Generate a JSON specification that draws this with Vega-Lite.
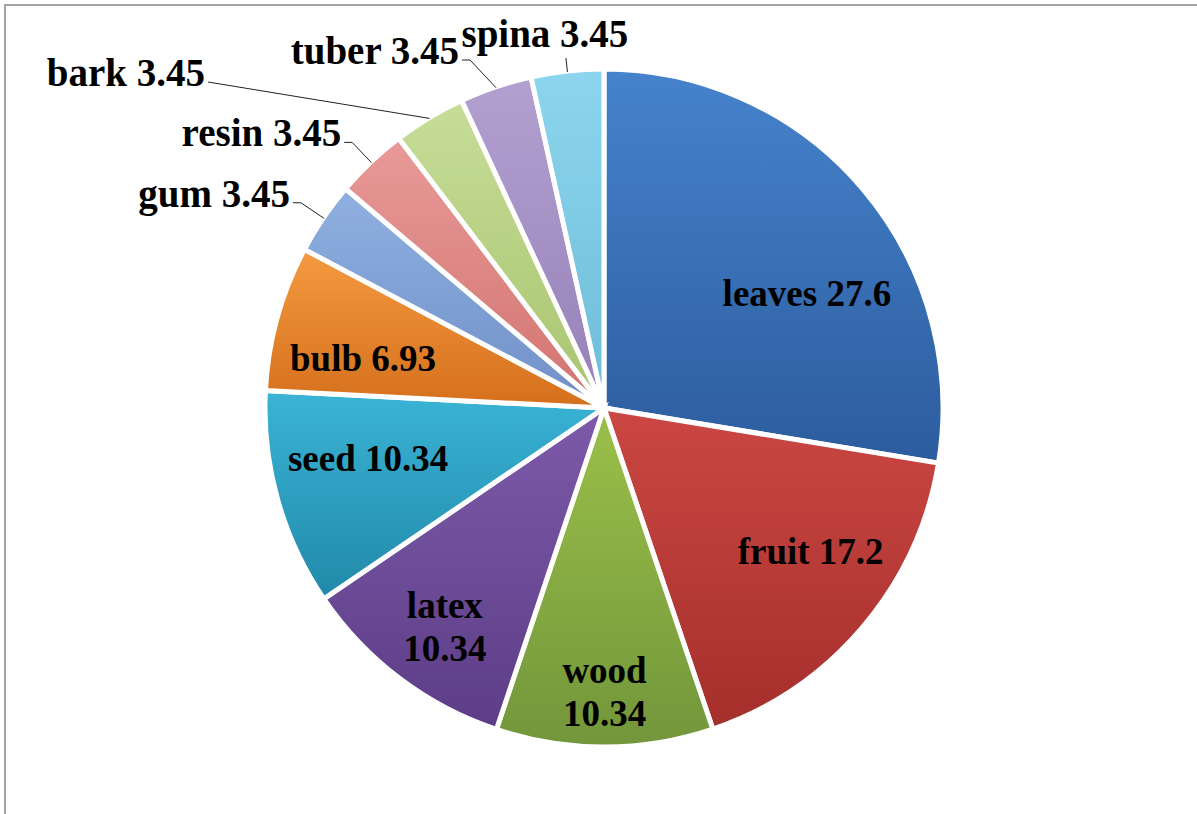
{
  "$schema": "https://vega.github.io/schema/vega-lite/v6.json",
  "width": 1200,
  "height": 817,
  "autosize": {"type": "none"},
  "padding": {"left": 5, "top": 5, "right": -8, "bottom": -8},
  "background": "white",
  "config": {
    "view": {"stroke": "#a3a3a3", "strokeWidth": 2},
    "text": {"font": "Liberation Serif", "fontWeight": "bold", "fontSize": 37, "fill": "black"}
  },
  "data": {
    "values": [
      {"part": "leaves", "value": 27.6},
      {"part": "fruit", "value": 17.2},
      {"part": "wood", "value": 10.34},
      {"part": "latex", "value": 10.34},
      {"part": "seed", "value": 10.34},
      {"part": "bulb", "value": 6.93},
      {"part": "gum", "value": 3.45},
      {"part": "resin", "value": 3.45},
      {"part": "bark", "value": 3.45},
      {"part": "tuber", "value": 3.45},
      {"part": "spina", "value": 3.45}
    ]
  },
  "transform": [
    {"window": [{"op": "row_number", "as": "rn"}]},
    {"stack": "value", "groupby": [], "sort": [{"field": "rn", "order": "ascending"}], "as": ["v0", "v1"]},
    {"calculate": "(datum.v0 + datum.v1) / 2", "as": "mid"},
    {"calculate": "datum.mid * PI / 50", "as": "a"},
    {"calculate": "datum.part + ' ' + datum.value", "as": "label"},
    {"calculate": "datum.part === 'spina' ? 352 : 366", "as": "ro"},
    {"calculate": "338 * sin(datum.a)", "as": "lx1"},
    {"calculate": "338 * cos(datum.a)", "as": "ly1"},
    {"calculate": "datum.part === 'bark' ? -396 : datum.part === 'tuber' ? -134 : datum.ro * sin(datum.a)", "as": "lx2"},
    {"calculate": "datum.part === 'bark' ? 326 : datum.part === 'tuber' ? 348 : datum.ro * cos(datum.a)", "as": "ly2"},
    {"calculate": "indexof(['gum','resin','tuber'], datum.part) >= 0 ? datum.lx2 - 8 : datum.lx2", "as": "lx3"}
  ],
  "layer": [
    {
      "mark": {"type": "arc", "outerRadius": 339, "stroke": "white", "strokeWidth": 5},
      "encoding": {
        "theta": {"field": "v0", "type": "quantitative", "stack": null, "scale": {"domain": [0, 100]}},
        "theta2": {"field": "v1"},
        "x": {"datum": 0, "type": "quantitative", "scale": {"domain": [-599, 601], "nice": false, "zero": false}, "axis": null},
        "y": {"datum": 0, "type": "quantitative", "scale": {"domain": [-414, 403], "nice": false, "zero": false}, "axis": null},
        "fill": {
          "condition": [
            {"test": "datum.part === 'leaves'", "value": {"gradient": "linear", "x1": 0, "y1": 0, "x2": 0, "y2": 1, "stops": [{"offset": 0, "color": "#4683CC"}, {"offset": 1, "color": "#2C5C9E"}]}},
            {"test": "datum.part === 'fruit'", "value": {"gradient": "linear", "x1": 0, "y1": 0, "x2": 0, "y2": 1, "stops": [{"offset": 0, "color": "#CB4743"}, {"offset": 1, "color": "#A52F2B"}]}},
            {"test": "datum.part === 'wood'", "value": {"gradient": "linear", "x1": 0, "y1": 0, "x2": 0, "y2": 1, "stops": [{"offset": 0, "color": "#9BC04A"}, {"offset": 1, "color": "#72963A"}]}},
            {"test": "datum.part === 'latex'", "value": {"gradient": "linear", "x1": 0, "y1": 0, "x2": 0, "y2": 1, "stops": [{"offset": 0, "color": "#7D5AAA"}, {"offset": 1, "color": "#5C3D86"}]}},
            {"test": "datum.part === 'seed'", "value": {"gradient": "linear", "x1": 0, "y1": 0, "x2": 0, "y2": 1, "stops": [{"offset": 0, "color": "#3AB4D6"}, {"offset": 1, "color": "#2189A9"}]}},
            {"test": "datum.part === 'bulb'", "value": {"gradient": "linear", "x1": 0, "y1": 0, "x2": 0, "y2": 1, "stops": [{"offset": 0, "color": "#F59A40"}, {"offset": 1, "color": "#D56F1C"}]}},
            {"test": "datum.part === 'gum'", "value": {"gradient": "linear", "x1": 0, "y1": 0, "x2": 0, "y2": 1, "stops": [{"offset": 0, "color": "#8FB0E0"}, {"offset": 1, "color": "#7090C8"}]}},
            {"test": "datum.part === 'resin'", "value": {"gradient": "linear", "x1": 0, "y1": 0, "x2": 0, "y2": 1, "stops": [{"offset": 0, "color": "#E89A98"}, {"offset": 1, "color": "#D27370"}]}},
            {"test": "datum.part === 'bark'", "value": {"gradient": "linear", "x1": 0, "y1": 0, "x2": 0, "y2": 1, "stops": [{"offset": 0, "color": "#C6DD98"}, {"offset": 1, "color": "#A8C46E"}]}},
            {"test": "datum.part === 'tuber'", "value": {"gradient": "linear", "x1": 0, "y1": 0, "x2": 0, "y2": 1, "stops": [{"offset": 0, "color": "#B3A0D0"}, {"offset": 1, "color": "#9680B8"}]}},
            {"test": "datum.part === 'spina'", "value": {"gradient": "linear", "x1": 0, "y1": 0, "x2": 0, "y2": 1, "stops": [{"offset": 0, "color": "#8DD5EE"}, {"offset": 1, "color": "#6DBCD8"}]}}
          ],
          "field": "part", "type": "nominal", "legend": null,
          "scale": {
            "domain": ["leaves", "fruit", "wood", "latex", "seed", "bulb", "gum", "resin", "bark", "tuber", "spina"],
            "range": ["#3C72B8", "#BF3A36", "#8CB23E", "#714E9C", "#2FA3C5", "#EE8A2C", "#82A3D5", "#DF8683", "#B8D384", "#A48FC4", "#7ECBE4"]
          }
        }
      }
    },
    {
      "transform": [{"filter": "datum.value < 4"}],
      "mark": {"type": "rule", "color": "#222222", "strokeWidth": 1},
      "encoding": {
        "x": {"field": "lx1", "type": "quantitative", "scale": {"domain": [-599, 601], "nice": false, "zero": false}, "axis": null},
        "y": {"field": "ly1", "type": "quantitative", "scale": {"domain": [-414, 403], "nice": false, "zero": false}, "axis": null},
        "x2": {"field": "lx2"},
        "y2": {"field": "ly2"}
      }
    },
    {
      "transform": [{"filter": "indexof(['gum','resin','tuber'], datum.part) >= 0"}],
      "mark": {"type": "rule", "color": "#222222", "strokeWidth": 1},
      "encoding": {
        "x": {"field": "lx2", "type": "quantitative", "scale": {"domain": [-599, 601], "nice": false, "zero": false}, "axis": null},
        "x2": {"field": "lx3"},
        "y": {"field": "ly2", "type": "quantitative", "scale": {"domain": [-414, 403], "nice": false, "zero": false}, "axis": null}
      }
    },
    {
      "transform": [{"filter": "indexof(['gum','resin','tuber','bark'], datum.part) >= 0"}],
      "mark": {"type": "text", "align": "right", "baseline": "alphabetic", "dx": -3, "dy": 4, "fontSize": 39},
      "encoding": {
        "x": {"field": "lx3", "type": "quantitative", "scale": {"domain": [-599, 601], "nice": false, "zero": false}, "axis": null},
        "y": {"field": "ly2", "type": "quantitative", "scale": {"domain": [-414, 403], "nice": false, "zero": false}, "axis": null},
        "text": {"field": "label"}
      }
    },
    {
      "transform": [{"filter": "datum.part === 'spina'"}],
      "mark": {"type": "text", "align": "center", "baseline": "alphabetic", "dx": -21, "dy": -11, "fontSize": 39},
      "encoding": {
        "x": {"field": "lx2", "type": "quantitative", "scale": {"domain": [-599, 601], "nice": false, "zero": false}, "axis": null},
        "y": {"field": "ly2", "type": "quantitative", "scale": {"domain": [-414, 403], "nice": false, "zero": false}, "axis": null},
        "text": {"field": "label"}
      }
    },
    {
      "transform": [{"filter": "datum.part === 'leaves'"}],
      "mark": {"type": "text", "align": "center", "baseline": "middle", "radius": 232, "dx": 26, "dy": 37},
      "encoding": {
        "theta": {"field": "mid", "type": "quantitative"},
        "x": {"datum": 0, "type": "quantitative"},
        "y": {"datum": 0, "type": "quantitative"},
        "text": {"field": "label"}
      }
    },
    {
      "transform": [{"filter": "datum.part === 'fruit'"}],
      "mark": {"type": "text", "align": "center", "baseline": "middle", "radius": 250, "dx": 16, "dy": -17},
      "encoding": {
        "theta": {"field": "mid", "type": "quantitative"},
        "x": {"datum": 0, "type": "quantitative"},
        "y": {"datum": 0, "type": "quantitative"},
        "text": {"field": "label"}
      }
    },
    {
      "transform": [{"filter": "datum.part === 'wood'"}],
      "mark": {"type": "text", "align": "center", "baseline": "middle", "radius": 285, "dy": -21, "lineBreak": " ", "lineHeight": 43},
      "encoding": {
        "theta": {"field": "mid", "type": "quantitative"},
        "x": {"datum": 0, "type": "quantitative"},
        "y": {"datum": 0, "type": "quantitative"},
        "text": {"field": "label"}
      }
    },
    {
      "transform": [{"filter": "datum.part === 'latex'"}],
      "mark": {"type": "text", "align": "center", "baseline": "middle", "radius": 272, "dx": 5, "dy": -18, "lineBreak": " ", "lineHeight": 43},
      "encoding": {
        "theta": {"field": "mid", "type": "quantitative"},
        "x": {"datum": 0, "type": "quantitative"},
        "y": {"datum": 0, "type": "quantitative"},
        "text": {"field": "label"}
      }
    },
    {
      "transform": [{"filter": "datum.part === 'seed'"}],
      "mark": {"type": "text", "align": "center", "baseline": "middle", "radius": 245, "dy": -14},
      "encoding": {
        "theta": {"field": "mid", "type": "quantitative"},
        "x": {"datum": 0, "type": "quantitative"},
        "y": {"datum": 0, "type": "quantitative"},
        "text": {"field": "label"}
      }
    },
    {
      "transform": [{"filter": "datum.part === 'bulb'"}],
      "mark": {"type": "text", "align": "center", "baseline": "middle", "radius": 250, "dy": 18},
      "encoding": {
        "theta": {"field": "mid", "type": "quantitative"},
        "x": {"datum": 0, "type": "quantitative"},
        "y": {"datum": 0, "type": "quantitative"},
        "text": {"field": "label"}
      }
    }
  ]
}
